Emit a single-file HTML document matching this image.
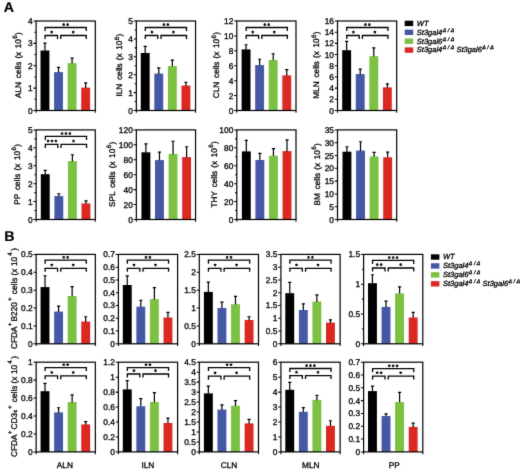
<!DOCTYPE html>
<html><head><meta charset="utf-8"><title>Figure</title>
<style>
html,body{margin:0;padding:0;background:#fff;}
body{width:520px;height:470px;overflow:hidden;font-family:"Liberation Sans",sans-serif;}
svg{display:block;will-change:transform;}
text{font-family:"Liberation Sans",sans-serif;fill:#000;stroke:#000;stroke-width:0.3px;text-rendering:geometricPrecision;}
.t{font-size:8.4px;}
.l{font-size:8.2px;word-spacing:1.7px;}
.lb{font-size:8.3px;}
.xb{font-size:8.3px;}
.e{font-size:6px;}
.u{font-size:6.3px;}
.P{font-size:14.2px;font-weight:bold;fill:#000;stroke-width:0.2px;}
.g{font-size:7.5px;font-style:italic;}
.d{font-size:5.3px;font-style:italic;letter-spacing:1.5px;}
</style></head>
<body>
<svg width="520" height="470" viewBox="0 0 520 470">
<defs><filter id="soft" x="0" y="0" width="520" height="470" filterUnits="userSpaceOnUse" color-interpolation-filters="sRGB"><feConvolveMatrix order="3" kernelMatrix="0.01 0.08 0.01 0.08 0.64 0.08 0.01 0.08 0.01" divisor="1" edgeMode="duplicate" preserveAlpha="false"/></filter></defs>
<g filter="url(#soft)">
<rect x="40.5" y="50.5" width="8.9" height="60" fill="#000000"/>
<path d="M44.95 50.8V42.8M43.35 43.15H46.55" stroke="#000" stroke-width="1.2" fill="none"/>
<rect x="54.07" y="72.1" width="8.9" height="38.4" fill="#4558a6"/>
<path d="M58.52 72.4V67.1M56.92 67.45H60.12" stroke="#000" stroke-width="1.2" fill="none"/>
<rect x="67.64" y="63.1" width="8.9" height="47.4" fill="#7cc142"/>
<path d="M72.09 63.4V57.7M70.49 58.05H73.69" stroke="#000" stroke-width="1.2" fill="none"/>
<rect x="81.21" y="87.6" width="8.9" height="22.9" fill="#db2823"/>
<path d="M85.66 87.9V82.6M84.06 82.95H87.26" stroke="#000" stroke-width="1.2" fill="none"/>
<rect x="36.1" y="21" width="59.2" height="89.5" fill="none" stroke="#000" stroke-width="1.2"/>
<path d="M33.4 110.5H36.1M33.4 88.12H36.1M33.4 65.75H36.1M33.4 43.38H36.1M33.4 21H36.1M34.4 99.31H36.1M34.4 76.94H36.1M34.4 54.56H36.1M34.4 32.19H36.1M36.1 110.5V112.8M95.3 110.5V112.8" stroke="#000" stroke-width="1.05" fill="none"/>
<text x="32.6" y="113.5" text-anchor="end" class="t">0</text>
<text x="32.6" y="91.12" text-anchor="end" class="t">1</text>
<text x="32.6" y="68.75" text-anchor="end" class="t">2</text>
<text x="32.6" y="46.38" text-anchor="end" class="t">3</text>
<text x="32.6" y="24" text-anchor="end" class="t">4</text>
<path d="M45.05 31V27.5H86.26V31M45.05 39V35.5H57.52V39M60.72 39V35.5H86.26V39" stroke="#000" stroke-width="1.3" fill="none"/>
<path d="M63.7 24.6L63.7 23.6M63.7 24.6L64.66 24.29M63.7 24.6L64.29 25.41M63.7 24.6L63.12 25.41M63.7 24.6L62.75 24.29" stroke="#000" stroke-width="1.05" stroke-linecap="round" fill="none"/>
<path d="M67.61 24.6L67.61 23.6M67.61 24.6L68.56 24.29M67.61 24.6L68.19 25.41M67.61 24.6L67.02 25.41M67.61 24.6L66.65 24.29" stroke="#000" stroke-width="1.05" stroke-linecap="round" fill="none"/>
<path d="M51.69 32.1L51.69 31.1M51.69 32.1L52.64 31.79M51.69 32.1L52.27 32.91M51.69 32.1L51.1 32.91M51.69 32.1L50.73 31.79" stroke="#000" stroke-width="1.05" stroke-linecap="round" fill="none"/>
<path d="M73.19 32.1L73.19 31.1M73.19 32.1L74.14 31.79M73.19 32.1L73.78 32.91M73.19 32.1L72.6 32.91M73.19 32.1L72.24 31.79" stroke="#000" stroke-width="1.05" stroke-linecap="round" fill="none"/>
<rect x="140.75" y="53" width="8.9" height="57.5" fill="#000000"/>
<path d="M145.2 53.3V46M143.6 46.35H146.8" stroke="#000" stroke-width="1.2" fill="none"/>
<rect x="154.32" y="73.6" width="8.9" height="36.9" fill="#4558a6"/>
<path d="M158.77 73.9V67.5M157.17 67.85H160.37" stroke="#000" stroke-width="1.2" fill="none"/>
<rect x="167.89" y="66" width="8.9" height="44.5" fill="#7cc142"/>
<path d="M172.34 66.3V59.7M170.74 60.05H173.94" stroke="#000" stroke-width="1.2" fill="none"/>
<rect x="181.46" y="85.6" width="8.9" height="24.9" fill="#db2823"/>
<path d="M185.91 85.9V81.9M184.31 82.25H187.51" stroke="#000" stroke-width="1.2" fill="none"/>
<rect x="136.35" y="21" width="59.2" height="89.5" fill="none" stroke="#000" stroke-width="1.2"/>
<path d="M133.65 110.5H136.35M133.65 92.6H136.35M133.65 74.7H136.35M133.65 56.8H136.35M133.65 38.9H136.35M133.65 21H136.35M134.65 101.55H136.35M134.65 83.65H136.35M134.65 65.75H136.35M134.65 47.85H136.35M134.65 29.95H136.35M136.35 110.5V112.8M195.55 110.5V112.8" stroke="#000" stroke-width="1.05" fill="none"/>
<text x="132.85" y="113.5" text-anchor="end" class="t">0</text>
<text x="132.85" y="95.6" text-anchor="end" class="t">1</text>
<text x="132.85" y="77.7" text-anchor="end" class="t">2</text>
<text x="132.85" y="59.8" text-anchor="end" class="t">3</text>
<text x="132.85" y="41.9" text-anchor="end" class="t">4</text>
<text x="132.85" y="24" text-anchor="end" class="t">5</text>
<path d="M145.3 31V27.5H186.51V31M145.3 39V35.5H157.77V39M160.97 39V35.5H186.51V39" stroke="#000" stroke-width="1.3" fill="none"/>
<path d="M163.95 24.6L163.95 23.6M163.95 24.6L164.91 24.29M163.95 24.6L164.54 25.41M163.95 24.6L163.37 25.41M163.95 24.6L163 24.29" stroke="#000" stroke-width="1.05" stroke-linecap="round" fill="none"/>
<path d="M167.85 24.6L167.85 23.6M167.85 24.6L168.81 24.29M167.85 24.6L168.44 25.41M167.85 24.6L167.27 25.41M167.85 24.6L166.9 24.29" stroke="#000" stroke-width="1.05" stroke-linecap="round" fill="none"/>
<path d="M151.93 32.1L151.93 31.1M151.93 32.1L152.89 31.79M151.93 32.1L152.52 32.91M151.93 32.1L151.35 32.91M151.93 32.1L150.98 31.79" stroke="#000" stroke-width="1.05" stroke-linecap="round" fill="none"/>
<path d="M173.44 32.1L173.44 31.1M173.44 32.1L174.39 31.79M173.44 32.1L174.03 32.91M173.44 32.1L172.85 32.91M173.44 32.1L172.49 31.79" stroke="#000" stroke-width="1.05" stroke-linecap="round" fill="none"/>
<rect x="241.6" y="49.4" width="8.9" height="61.1" fill="#000000"/>
<path d="M246.05 49.7V44.4M244.45 44.75H247.65" stroke="#000" stroke-width="1.2" fill="none"/>
<rect x="255.17" y="65.1" width="8.9" height="45.4" fill="#4558a6"/>
<path d="M259.62 65.4V58.9M258.02 59.25H261.22" stroke="#000" stroke-width="1.2" fill="none"/>
<rect x="268.74" y="60" width="8.9" height="50.5" fill="#7cc142"/>
<path d="M273.19 60.3V53.4M271.59 53.75H274.79" stroke="#000" stroke-width="1.2" fill="none"/>
<rect x="282.31" y="75.4" width="8.9" height="35.1" fill="#db2823"/>
<path d="M286.76 75.7V69.2M285.16 69.55H288.36" stroke="#000" stroke-width="1.2" fill="none"/>
<rect x="236.8" y="21" width="59.2" height="89.5" fill="none" stroke="#000" stroke-width="1.2"/>
<path d="M234.1 110.5H236.8M234.1 95.58H236.8M234.1 80.67H236.8M234.1 65.75H236.8M234.1 50.83H236.8M234.1 35.92H236.8M234.1 21H236.8M236.8 110.5V112.8M296 110.5V112.8" stroke="#000" stroke-width="1.05" fill="none"/>
<text x="233.3" y="113.5" text-anchor="end" class="t">0</text>
<text x="233.3" y="98.58" text-anchor="end" class="t">2</text>
<text x="233.3" y="83.67" text-anchor="end" class="t">4</text>
<text x="233.3" y="68.75" text-anchor="end" class="t">6</text>
<text x="233.3" y="53.83" text-anchor="end" class="t">8</text>
<text x="233.3" y="38.92" text-anchor="end" class="t">10</text>
<text x="233.3" y="24" text-anchor="end" class="t">12</text>
<path d="M246.15 31V27.5H287.36V31M246.15 39V35.5H258.62V39M261.82 39V35.5H287.36V39" stroke="#000" stroke-width="1.3" fill="none"/>
<path d="M264.81 24.6L264.81 23.6M264.81 24.6L265.76 24.29M264.81 24.6L265.39 25.41M264.81 24.6L264.22 25.41M264.81 24.6L263.85 24.29" stroke="#000" stroke-width="1.05" stroke-linecap="round" fill="none"/>
<path d="M268.7 24.6L268.7 23.6M268.7 24.6L269.66 24.29M268.7 24.6L269.29 25.41M268.7 24.6L268.12 25.41M268.7 24.6L267.75 24.29" stroke="#000" stroke-width="1.05" stroke-linecap="round" fill="none"/>
<path d="M252.78 32.1L252.78 31.1M252.78 32.1L253.74 31.79M252.78 32.1L253.37 32.91M252.78 32.1L252.2 32.91M252.78 32.1L251.83 31.79" stroke="#000" stroke-width="1.05" stroke-linecap="round" fill="none"/>
<path d="M274.29 32.1L274.29 31.1M274.29 32.1L275.24 31.79M274.29 32.1L274.88 32.91M274.29 32.1L273.7 32.91M274.29 32.1L273.34 31.79" stroke="#000" stroke-width="1.05" stroke-linecap="round" fill="none"/>
<rect x="342.2" y="50.2" width="8.9" height="60.3" fill="#000000"/>
<path d="M346.65 50.5V41.1M345.05 41.45H348.25" stroke="#000" stroke-width="1.2" fill="none"/>
<rect x="355.77" y="74.1" width="8.9" height="36.4" fill="#4558a6"/>
<path d="M360.22 74.4V68.7M358.62 69.05H361.82" stroke="#000" stroke-width="1.2" fill="none"/>
<rect x="369.34" y="56.2" width="8.9" height="54.3" fill="#7cc142"/>
<path d="M373.79 56.5V47.6M372.19 47.95H375.39" stroke="#000" stroke-width="1.2" fill="none"/>
<rect x="382.91" y="87.4" width="8.9" height="23.1" fill="#db2823"/>
<path d="M387.36 87.7V83.6M385.76 83.95H388.96" stroke="#000" stroke-width="1.2" fill="none"/>
<rect x="337.5" y="21" width="59.2" height="89.5" fill="none" stroke="#000" stroke-width="1.2"/>
<path d="M334.8 110.5H337.5M334.8 99.31H337.5M334.8 88.12H337.5M334.8 76.94H337.5M334.8 65.75H337.5M334.8 54.56H337.5M334.8 43.38H337.5M334.8 32.19H337.5M334.8 21H337.5M337.5 110.5V112.8M396.7 110.5V112.8" stroke="#000" stroke-width="1.05" fill="none"/>
<text x="334" y="113.5" text-anchor="end" class="t">0</text>
<text x="334" y="102.31" text-anchor="end" class="t">2</text>
<text x="334" y="91.12" text-anchor="end" class="t">4</text>
<text x="334" y="79.94" text-anchor="end" class="t">6</text>
<text x="334" y="68.75" text-anchor="end" class="t">8</text>
<text x="334" y="57.56" text-anchor="end" class="t">10</text>
<text x="334" y="46.38" text-anchor="end" class="t">12</text>
<text x="334" y="35.19" text-anchor="end" class="t">14</text>
<text x="334" y="24" text-anchor="end" class="t">16</text>
<path d="M346.75 31V27.5H387.96V31M346.75 39V35.5H359.22V39M362.42 39V35.5H387.96V39" stroke="#000" stroke-width="1.3" fill="none"/>
<path d="M365.41 24.6L365.41 23.6M365.41 24.6L366.36 24.29M365.41 24.6L365.99 25.41M365.41 24.6L364.82 25.41M365.41 24.6L364.45 24.29" stroke="#000" stroke-width="1.05" stroke-linecap="round" fill="none"/>
<path d="M369.31 24.6L369.31 23.6M369.31 24.6L370.26 24.29M369.31 24.6L369.89 25.41M369.31 24.6L368.72 25.41M369.31 24.6L368.35 24.29" stroke="#000" stroke-width="1.05" stroke-linecap="round" fill="none"/>
<path d="M353.39 32.1L353.39 31.1M353.39 32.1L354.34 31.79M353.39 32.1L353.97 32.91M353.39 32.1L352.8 32.91M353.39 32.1L352.43 31.79" stroke="#000" stroke-width="1.05" stroke-linecap="round" fill="none"/>
<path d="M374.89 32.1L374.89 31.1M374.89 32.1L375.84 31.79M374.89 32.1L375.48 32.91M374.89 32.1L374.3 32.91M374.89 32.1L373.94 31.79" stroke="#000" stroke-width="1.05" stroke-linecap="round" fill="none"/>
<rect x="40.8" y="174.2" width="8.9" height="45.3" fill="#000000"/>
<path d="M45.25 174.5V170.1M43.65 170.45H46.85" stroke="#000" stroke-width="1.2" fill="none"/>
<rect x="54.37" y="196.1" width="8.9" height="23.4" fill="#4558a6"/>
<path d="M58.82 196.4V193.4M57.22 193.75H60.42" stroke="#000" stroke-width="1.2" fill="none"/>
<rect x="67.94" y="161.1" width="8.9" height="58.4" fill="#7cc142"/>
<path d="M72.39 161.4V154.4M70.79 154.75H73.99" stroke="#000" stroke-width="1.2" fill="none"/>
<rect x="81.51" y="203.4" width="8.9" height="16.1" fill="#db2823"/>
<path d="M85.96 203.7V200.5M84.36 200.85H87.56" stroke="#000" stroke-width="1.2" fill="none"/>
<rect x="36.1" y="129.9" width="59.2" height="89.6" fill="none" stroke="#000" stroke-width="1.2"/>
<path d="M33.4 219.5H36.1M33.4 201.58H36.1M33.4 183.66H36.1M33.4 165.74H36.1M33.4 147.82H36.1M33.4 129.9H36.1M34.4 210.54H36.1M34.4 192.62H36.1M34.4 174.7H36.1M34.4 156.78H36.1M34.4 138.86H36.1M36.1 219.5V221.8M95.3 219.5V221.8" stroke="#000" stroke-width="1.05" fill="none"/>
<text x="32.6" y="222.5" text-anchor="end" class="t">0</text>
<text x="32.6" y="204.58" text-anchor="end" class="t">1</text>
<text x="32.6" y="186.66" text-anchor="end" class="t">2</text>
<text x="32.6" y="168.74" text-anchor="end" class="t">3</text>
<text x="32.6" y="150.82" text-anchor="end" class="t">4</text>
<text x="32.6" y="132.9" text-anchor="end" class="t">5</text>
<path d="M45.35 139.9V136.4H86.56V139.9M45.35 147.9V144.4H57.82V147.9M61.02 147.9V144.4H86.56V147.9" stroke="#000" stroke-width="1.3" fill="none"/>
<path d="M62.05 133.5L62.05 132.5M62.05 133.5L63.01 133.19M62.05 133.5L62.64 134.31M62.05 133.5L61.47 134.31M62.05 133.5L61.1 133.19" stroke="#000" stroke-width="1.05" stroke-linecap="round" fill="none"/>
<path d="M65.95 133.5L65.95 132.5M65.95 133.5L66.91 133.19M65.95 133.5L66.54 134.31M65.95 133.5L65.37 134.31M65.95 133.5L65 133.19" stroke="#000" stroke-width="1.05" stroke-linecap="round" fill="none"/>
<path d="M69.86 133.5L69.86 132.5M69.86 133.5L70.81 133.19M69.86 133.5L70.44 134.31M69.86 133.5L69.27 134.31M69.86 133.5L68.9 133.19" stroke="#000" stroke-width="1.05" stroke-linecap="round" fill="none"/>
<path d="M48.09 141L48.09 140M48.09 141L49.04 140.69M48.09 141L48.67 141.81M48.09 141L47.5 141.81M48.09 141L47.13 140.69" stroke="#000" stroke-width="1.05" stroke-linecap="round" fill="none"/>
<path d="M51.99 141L51.99 140M51.99 141L52.94 140.69M51.99 141L52.57 141.81M51.99 141L51.4 141.81M51.99 141L51.03 140.69" stroke="#000" stroke-width="1.05" stroke-linecap="round" fill="none"/>
<path d="M55.89 141L55.89 140M55.89 141L56.84 140.69M55.89 141L56.47 141.81M55.89 141L55.3 141.81M55.89 141L54.93 140.69" stroke="#000" stroke-width="1.05" stroke-linecap="round" fill="none"/>
<path d="M73.49 141L73.49 140M73.49 141L74.44 140.69M73.49 141L74.08 141.81M73.49 141L72.9 141.81M73.49 141L72.54 140.69" stroke="#000" stroke-width="1.05" stroke-linecap="round" fill="none"/>
<rect x="141.45" y="152.3" width="8.9" height="67.2" fill="#000000"/>
<path d="M145.9 152.6V143.6M144.3 143.95H147.5" stroke="#000" stroke-width="1.2" fill="none"/>
<rect x="155.02" y="160.1" width="8.9" height="59.4" fill="#4558a6"/>
<path d="M159.47 160.4V151.7M157.87 152.05H161.07" stroke="#000" stroke-width="1.2" fill="none"/>
<rect x="168.59" y="153.9" width="8.9" height="65.6" fill="#7cc142"/>
<path d="M173.04 154.2V140.9M171.44 141.25H174.64" stroke="#000" stroke-width="1.2" fill="none"/>
<rect x="182.16" y="157.1" width="8.9" height="62.4" fill="#db2823"/>
<path d="M186.61 157.4V146.4M185.01 146.75H188.21" stroke="#000" stroke-width="1.2" fill="none"/>
<rect x="136.35" y="129.9" width="59.2" height="89.6" fill="none" stroke="#000" stroke-width="1.2"/>
<path d="M133.65 219.5H136.35M133.65 204.57H136.35M133.65 189.63H136.35M133.65 174.7H136.35M133.65 159.77H136.35M133.65 144.83H136.35M133.65 129.9H136.35M136.35 219.5V221.8M195.55 219.5V221.8" stroke="#000" stroke-width="1.05" fill="none"/>
<text x="132.85" y="222.5" text-anchor="end" class="t">0</text>
<text x="132.85" y="207.57" text-anchor="end" class="t">20</text>
<text x="132.85" y="192.63" text-anchor="end" class="t">40</text>
<text x="132.85" y="177.7" text-anchor="end" class="t">60</text>
<text x="132.85" y="162.77" text-anchor="end" class="t">80</text>
<text x="132.85" y="147.83" text-anchor="end" class="t">100</text>
<text x="132.85" y="132.9" text-anchor="end" class="t">120</text>
<rect x="241.85" y="151.4" width="8.9" height="68.1" fill="#000000"/>
<path d="M246.3 151.7V140M244.7 140.35H247.9" stroke="#000" stroke-width="1.2" fill="none"/>
<rect x="255.42" y="160" width="8.9" height="59.5" fill="#4558a6"/>
<path d="M259.87 160.3V153M258.27 153.35H261.47" stroke="#000" stroke-width="1.2" fill="none"/>
<rect x="268.99" y="155.7" width="8.9" height="63.8" fill="#7cc142"/>
<path d="M273.44 156V148.2M271.84 148.55H275.04" stroke="#000" stroke-width="1.2" fill="none"/>
<rect x="282.56" y="151.1" width="8.9" height="68.4" fill="#db2823"/>
<path d="M287.01 151.4V139.6M285.41 139.95H288.61" stroke="#000" stroke-width="1.2" fill="none"/>
<rect x="236.8" y="129.9" width="59.2" height="89.6" fill="none" stroke="#000" stroke-width="1.2"/>
<path d="M234.1 219.5H236.8M234.1 201.58H236.8M234.1 183.66H236.8M234.1 165.74H236.8M234.1 147.82H236.8M234.1 129.9H236.8M235.1 210.54H236.8M235.1 192.62H236.8M235.1 174.7H236.8M235.1 156.78H236.8M235.1 138.86H236.8M236.8 219.5V221.8M296 219.5V221.8" stroke="#000" stroke-width="1.05" fill="none"/>
<text x="233.3" y="222.5" text-anchor="end" class="t">0</text>
<text x="233.3" y="204.58" text-anchor="end" class="t">20</text>
<text x="233.3" y="186.66" text-anchor="end" class="t">40</text>
<text x="233.3" y="168.74" text-anchor="end" class="t">60</text>
<text x="233.3" y="150.82" text-anchor="end" class="t">80</text>
<text x="233.3" y="132.9" text-anchor="end" class="t">100</text>
<rect x="342.5" y="151.7" width="8.9" height="67.8" fill="#000000"/>
<path d="M346.95 152V146.4M345.35 146.75H348.55" stroke="#000" stroke-width="1.2" fill="none"/>
<rect x="356.07" y="150.6" width="8.9" height="68.9" fill="#4558a6"/>
<path d="M360.52 150.9V141.4M358.92 141.75H362.12" stroke="#000" stroke-width="1.2" fill="none"/>
<rect x="369.64" y="156.5" width="8.9" height="63" fill="#7cc142"/>
<path d="M374.09 156.8V152.1M372.49 152.45H375.69" stroke="#000" stroke-width="1.2" fill="none"/>
<rect x="383.21" y="157.3" width="8.9" height="62.2" fill="#db2823"/>
<path d="M387.66 157.6V151.8M386.06 152.15H389.26" stroke="#000" stroke-width="1.2" fill="none"/>
<rect x="337.5" y="129.9" width="59.2" height="89.6" fill="none" stroke="#000" stroke-width="1.2"/>
<path d="M334.8 219.5H337.5M334.8 206.7H337.5M334.8 193.9H337.5M334.8 181.1H337.5M334.8 168.3H337.5M334.8 155.5H337.5M334.8 142.7H337.5M334.8 129.9H337.5M337.5 219.5V221.8M396.7 219.5V221.8" stroke="#000" stroke-width="1.05" fill="none"/>
<text x="334" y="222.5" text-anchor="end" class="t">0</text>
<text x="334" y="209.7" text-anchor="end" class="t">5</text>
<text x="334" y="196.9" text-anchor="end" class="t">10</text>
<text x="334" y="184.1" text-anchor="end" class="t">15</text>
<text x="334" y="171.3" text-anchor="end" class="t">20</text>
<text x="334" y="158.5" text-anchor="end" class="t">25</text>
<text x="334" y="145.7" text-anchor="end" class="t">30</text>
<text x="334" y="132.9" text-anchor="end" class="t">35</text>
<rect x="40.55" y="287.1" width="8.9" height="56.7" fill="#000000"/>
<path d="M45 287.4V275.4M43.4 275.75H46.6" stroke="#000" stroke-width="1.2" fill="none"/>
<rect x="54.12" y="311.6" width="8.9" height="32.2" fill="#4558a6"/>
<path d="M58.57 311.9V305.8M56.97 306.15H60.17" stroke="#000" stroke-width="1.2" fill="none"/>
<rect x="67.69" y="296" width="8.9" height="47.8" fill="#7cc142"/>
<path d="M72.14 296.3V286.2M70.54 286.55H73.74" stroke="#000" stroke-width="1.2" fill="none"/>
<rect x="81.26" y="321.6" width="8.9" height="22.2" fill="#db2823"/>
<path d="M85.71 321.9V316.4M84.11 316.75H87.31" stroke="#000" stroke-width="1.2" fill="none"/>
<rect x="36.15" y="254.4" width="59.2" height="89.4" fill="none" stroke="#000" stroke-width="1.2"/>
<path d="M33.45 343.8H36.15M33.45 325.92H36.15M33.45 308.04H36.15M33.45 290.16H36.15M33.45 272.28H36.15M33.45 254.4H36.15M36.15 343.8V346.1M95.35 343.8V346.1" stroke="#000" stroke-width="1.05" fill="none"/>
<text x="32.65" y="346.8" text-anchor="end" class="t">0</text>
<text x="32.65" y="328.92" text-anchor="end" class="t">0.1</text>
<text x="32.65" y="311.04" text-anchor="end" class="t">0.2</text>
<text x="32.65" y="293.16" text-anchor="end" class="t">0.3</text>
<text x="32.65" y="275.28" text-anchor="end" class="t">0.4</text>
<text x="32.65" y="257.4" text-anchor="end" class="t">0.5</text>
<path d="M45.1 263.7V260.2H86.31V263.7M45.1 271.8V268.3H57.57V271.8M60.77 271.8V268.3H86.31V271.8" stroke="#000" stroke-width="1.3" fill="none"/>
<path d="M63.75 257.3L63.75 256.3M63.75 257.3L64.71 256.99M63.75 257.3L64.34 258.11M63.75 257.3L63.17 258.11M63.75 257.3L62.8 256.99" stroke="#000" stroke-width="1.05" stroke-linecap="round" fill="none"/>
<path d="M67.66 257.3L67.66 256.3M67.66 257.3L68.61 256.99M67.66 257.3L68.24 258.11M67.66 257.3L67.07 258.11M67.66 257.3L66.7 256.99" stroke="#000" stroke-width="1.05" stroke-linecap="round" fill="none"/>
<path d="M51.74 264.9L51.74 263.9M51.74 264.9L52.69 264.59M51.74 264.9L52.32 265.71M51.74 264.9L51.15 265.71M51.74 264.9L50.78 264.59" stroke="#000" stroke-width="1.05" stroke-linecap="round" fill="none"/>
<path d="M73.24 264.9L73.24 263.9M73.24 264.9L74.19 264.59M73.24 264.9L73.83 265.71M73.24 264.9L72.65 265.71M73.24 264.9L72.29 264.59" stroke="#000" stroke-width="1.05" stroke-linecap="round" fill="none"/>
<rect x="122.8" y="285" width="8.9" height="58.8" fill="#000000"/>
<path d="M127.25 285.3V275.5M125.65 275.85H128.85" stroke="#000" stroke-width="1.2" fill="none"/>
<rect x="136.37" y="306.7" width="8.9" height="37.1" fill="#4558a6"/>
<path d="M140.82 307V299.9M139.22 300.25H142.42" stroke="#000" stroke-width="1.2" fill="none"/>
<rect x="149.94" y="299.1" width="8.9" height="44.7" fill="#7cc142"/>
<path d="M154.39 299.4V287.2M152.79 287.55H155.99" stroke="#000" stroke-width="1.2" fill="none"/>
<rect x="163.51" y="317.5" width="8.9" height="26.3" fill="#db2823"/>
<path d="M167.96 317.8V312M166.36 312.35H169.56" stroke="#000" stroke-width="1.2" fill="none"/>
<rect x="118.4" y="254.4" width="59.2" height="89.4" fill="none" stroke="#000" stroke-width="1.2"/>
<path d="M115.7 343.8H118.4M115.7 331.03H118.4M115.7 318.26H118.4M115.7 305.49H118.4M115.7 292.71H118.4M115.7 279.94H118.4M115.7 267.17H118.4M115.7 254.4H118.4M118.4 343.8V346.1M177.6 343.8V346.1" stroke="#000" stroke-width="1.05" fill="none"/>
<text x="114.9" y="346.8" text-anchor="end" class="t">0</text>
<text x="114.9" y="334.03" text-anchor="end" class="t">0.1</text>
<text x="114.9" y="321.26" text-anchor="end" class="t">0.2</text>
<text x="114.9" y="308.49" text-anchor="end" class="t">0.3</text>
<text x="114.9" y="295.71" text-anchor="end" class="t">0.4</text>
<text x="114.9" y="282.94" text-anchor="end" class="t">0.5</text>
<text x="114.9" y="270.17" text-anchor="end" class="t">0.6</text>
<text x="114.9" y="257.4" text-anchor="end" class="t">0.7</text>
<path d="M127.35 263.7V260.2H168.56V263.7M127.35 271.8V268.3H139.82V271.8M143.02 271.8V268.3H168.56V271.8" stroke="#000" stroke-width="1.3" fill="none"/>
<path d="M146 257.3L146 256.3M146 257.3L146.96 256.99M146 257.3L146.59 258.11M146 257.3L145.42 258.11M146 257.3L145.05 256.99" stroke="#000" stroke-width="1.05" stroke-linecap="round" fill="none"/>
<path d="M149.9 257.3L149.9 256.3M149.9 257.3L150.86 256.99M149.9 257.3L150.49 258.11M149.9 257.3L149.32 258.11M149.9 257.3L148.95 256.99" stroke="#000" stroke-width="1.05" stroke-linecap="round" fill="none"/>
<path d="M133.98 264.9L133.98 263.9M133.98 264.9L134.94 264.59M133.98 264.9L134.57 265.71M133.98 264.9L133.4 265.71M133.98 264.9L133.03 264.59" stroke="#000" stroke-width="1.05" stroke-linecap="round" fill="none"/>
<path d="M155.49 264.9L155.49 263.9M155.49 264.9L156.44 264.59M155.49 264.9L156.08 265.71M155.49 264.9L154.9 265.71M155.49 264.9L154.54 264.59" stroke="#000" stroke-width="1.05" stroke-linecap="round" fill="none"/>
<rect x="203.9" y="291.9" width="8.9" height="51.9" fill="#000000"/>
<path d="M208.35 292.2V281.8M206.75 282.15H209.95" stroke="#000" stroke-width="1.2" fill="none"/>
<rect x="217.47" y="308" width="8.9" height="35.8" fill="#4558a6"/>
<path d="M221.92 308.3V301.8M220.32 302.15H223.52" stroke="#000" stroke-width="1.2" fill="none"/>
<rect x="231.04" y="304.2" width="8.9" height="39.6" fill="#7cc142"/>
<path d="M235.49 304.5V296.1M233.89 296.45H237.09" stroke="#000" stroke-width="1.2" fill="none"/>
<rect x="244.61" y="320" width="8.9" height="23.8" fill="#db2823"/>
<path d="M249.06 320.3V316.4M247.46 316.75H250.66" stroke="#000" stroke-width="1.2" fill="none"/>
<rect x="199.3" y="254.4" width="59.2" height="89.4" fill="none" stroke="#000" stroke-width="1.2"/>
<path d="M196.6 343.8H199.3M196.6 325.92H199.3M196.6 308.04H199.3M196.6 290.16H199.3M196.6 272.28H199.3M196.6 254.4H199.3M199.3 343.8V346.1M258.5 343.8V346.1" stroke="#000" stroke-width="1.05" fill="none"/>
<text x="195.8" y="346.8" text-anchor="end" class="t">0</text>
<text x="195.8" y="328.92" text-anchor="end" class="t">0.5</text>
<text x="195.8" y="311.04" text-anchor="end" class="t">1</text>
<text x="195.8" y="293.16" text-anchor="end" class="t">1.5</text>
<text x="195.8" y="275.28" text-anchor="end" class="t">2</text>
<text x="195.8" y="257.4" text-anchor="end" class="t">2.5</text>
<path d="M208.45 263.7V260.2H249.66V263.7M208.45 271.8V268.3H220.92V271.8M224.12 271.8V268.3H249.66V271.8" stroke="#000" stroke-width="1.3" fill="none"/>
<path d="M227.11 257.3L227.11 256.3M227.11 257.3L228.06 256.99M227.11 257.3L227.69 258.11M227.11 257.3L226.52 258.11M227.11 257.3L226.15 256.99" stroke="#000" stroke-width="1.05" stroke-linecap="round" fill="none"/>
<path d="M231 257.3L231 256.3M231 257.3L231.96 256.99M231 257.3L231.59 258.11M231 257.3L230.42 258.11M231 257.3L230.05 256.99" stroke="#000" stroke-width="1.05" stroke-linecap="round" fill="none"/>
<path d="M215.08 264.9L215.08 263.9M215.08 264.9L216.04 264.59M215.08 264.9L215.67 265.71M215.08 264.9L214.5 265.71M215.08 264.9L214.13 264.59" stroke="#000" stroke-width="1.05" stroke-linecap="round" fill="none"/>
<path d="M236.59 264.9L236.59 263.9M236.59 264.9L237.54 264.59M236.59 264.9L237.18 265.71M236.59 264.9L236 265.71M236.59 264.9L235.64 264.59" stroke="#000" stroke-width="1.05" stroke-linecap="round" fill="none"/>
<rect x="285.3" y="293.2" width="8.9" height="50.6" fill="#000000"/>
<path d="M289.75 293.5V282.1M288.15 282.45H291.35" stroke="#000" stroke-width="1.2" fill="none"/>
<rect x="298.87" y="310" width="8.9" height="33.8" fill="#4558a6"/>
<path d="M303.32 310.3V303.6M301.72 303.95H304.92" stroke="#000" stroke-width="1.2" fill="none"/>
<rect x="312.44" y="301.6" width="8.9" height="42.2" fill="#7cc142"/>
<path d="M316.89 301.9V294.6M315.29 294.95H318.49" stroke="#000" stroke-width="1.2" fill="none"/>
<rect x="326.01" y="322.6" width="8.9" height="21.2" fill="#db2823"/>
<path d="M330.46 322.9V319.5M328.86 319.85H332.06" stroke="#000" stroke-width="1.2" fill="none"/>
<rect x="280.9" y="254.4" width="59.2" height="89.4" fill="none" stroke="#000" stroke-width="1.2"/>
<path d="M278.2 343.8H280.9M278.2 331.03H280.9M278.2 318.26H280.9M278.2 305.49H280.9M278.2 292.71H280.9M278.2 279.94H280.9M278.2 267.17H280.9M278.2 254.4H280.9M280.9 343.8V346.1M340.1 343.8V346.1" stroke="#000" stroke-width="1.05" fill="none"/>
<text x="277.4" y="346.8" text-anchor="end" class="t">0</text>
<text x="277.4" y="334.03" text-anchor="end" class="t">0.5</text>
<text x="277.4" y="321.26" text-anchor="end" class="t">1</text>
<text x="277.4" y="308.49" text-anchor="end" class="t">1.5</text>
<text x="277.4" y="295.71" text-anchor="end" class="t">2</text>
<text x="277.4" y="282.94" text-anchor="end" class="t">2.5</text>
<text x="277.4" y="270.17" text-anchor="end" class="t">3</text>
<text x="277.4" y="257.4" text-anchor="end" class="t">3.5</text>
<path d="M289.85 263.7V260.2H331.06V263.7M289.85 271.8V268.3H302.32V271.8M305.52 271.8V268.3H331.06V271.8" stroke="#000" stroke-width="1.3" fill="none"/>
<path d="M308.51 257.3L308.51 256.3M308.51 257.3L309.46 256.99M308.51 257.3L309.09 258.11M308.51 257.3L307.92 258.11M308.51 257.3L307.55 256.99" stroke="#000" stroke-width="1.05" stroke-linecap="round" fill="none"/>
<path d="M312.41 257.3L312.41 256.3M312.41 257.3L313.36 256.99M312.41 257.3L312.99 258.11M312.41 257.3L311.82 258.11M312.41 257.3L311.45 256.99" stroke="#000" stroke-width="1.05" stroke-linecap="round" fill="none"/>
<path d="M296.49 264.9L296.49 263.9M296.49 264.9L297.44 264.59M296.49 264.9L297.07 265.71M296.49 264.9L295.9 265.71M296.49 264.9L295.53 264.59" stroke="#000" stroke-width="1.05" stroke-linecap="round" fill="none"/>
<path d="M317.99 264.9L317.99 263.9M317.99 264.9L318.94 264.59M317.99 264.9L318.58 265.71M317.99 264.9L317.4 265.71M317.99 264.9L317.04 264.59" stroke="#000" stroke-width="1.05" stroke-linecap="round" fill="none"/>
<rect x="368" y="283.2" width="8.9" height="60.6" fill="#000000"/>
<path d="M372.45 283.5V274.4M370.85 274.75H374.05" stroke="#000" stroke-width="1.2" fill="none"/>
<rect x="381.57" y="306.9" width="8.9" height="36.9" fill="#4558a6"/>
<path d="M386.02 307.2V300.7M384.42 301.05H387.62" stroke="#000" stroke-width="1.2" fill="none"/>
<rect x="395.14" y="293.3" width="8.9" height="50.5" fill="#7cc142"/>
<path d="M399.59 293.6V286.5M397.99 286.85H401.19" stroke="#000" stroke-width="1.2" fill="none"/>
<rect x="408.71" y="317.5" width="8.9" height="26.3" fill="#db2823"/>
<path d="M413.16 317.8V312.1M411.56 312.45H414.76" stroke="#000" stroke-width="1.2" fill="none"/>
<rect x="363.6" y="254.4" width="59.2" height="89.4" fill="none" stroke="#000" stroke-width="1.2"/>
<path d="M360.9 343.8H363.6M360.9 314H363.6M360.9 284.2H363.6M360.9 254.4H363.6M361.9 328.9H363.6M361.9 299.1H363.6M361.9 269.3H363.6M363.6 343.8V346.1M422.8 343.8V346.1" stroke="#000" stroke-width="1.05" fill="none"/>
<text x="360.1" y="346.8" text-anchor="end" class="t">0</text>
<text x="360.1" y="317" text-anchor="end" class="t">0.5</text>
<text x="360.1" y="287.2" text-anchor="end" class="t">1</text>
<text x="360.1" y="257.4" text-anchor="end" class="t">1.5</text>
<path d="M372.55 263.9V260.4H413.76V263.9M372.55 271.5V268H385.02V271.5M388.22 271.5V268H413.76V271.5" stroke="#000" stroke-width="1.3" fill="none"/>
<path d="M389.26 257.5L389.26 256.5M389.26 257.5L390.21 257.19M389.26 257.5L389.84 258.31M389.26 257.5L388.67 258.31M389.26 257.5L388.3 257.19" stroke="#000" stroke-width="1.05" stroke-linecap="round" fill="none"/>
<path d="M393.16 257.5L393.16 256.5M393.16 257.5L394.11 257.19M393.16 257.5L393.74 258.31M393.16 257.5L392.57 258.31M393.16 257.5L392.2 257.19" stroke="#000" stroke-width="1.05" stroke-linecap="round" fill="none"/>
<path d="M397.06 257.5L397.06 256.5M397.06 257.5L398.01 257.19M397.06 257.5L397.64 258.31M397.06 257.5L396.47 258.31M397.06 257.5L396.1 257.19" stroke="#000" stroke-width="1.05" stroke-linecap="round" fill="none"/>
<path d="M377.24 264.6L377.24 263.6M377.24 264.6L378.19 264.29M377.24 264.6L377.82 265.41M377.24 264.6L376.65 265.41M377.24 264.6L376.28 264.29" stroke="#000" stroke-width="1.05" stroke-linecap="round" fill="none"/>
<path d="M381.14 264.6L381.14 263.6M381.14 264.6L382.09 264.29M381.14 264.6L381.72 265.41M381.14 264.6L380.55 265.41M381.14 264.6L380.18 264.29" stroke="#000" stroke-width="1.05" stroke-linecap="round" fill="none"/>
<path d="M400.69 264.6L400.69 263.6M400.69 264.6L401.64 264.29M400.69 264.6L401.28 265.41M400.69 264.6L400.1 265.41M400.69 264.6L399.74 264.29" stroke="#000" stroke-width="1.05" stroke-linecap="round" fill="none"/>
<rect x="40.55" y="391.2" width="8.9" height="60.7" fill="#000000"/>
<path d="M45 391.5V383M43.4 383.35H46.6" stroke="#000" stroke-width="1.2" fill="none"/>
<rect x="54.12" y="412.4" width="8.9" height="39.5" fill="#4558a6"/>
<path d="M58.57 412.7V407.4M56.97 407.75H60.17" stroke="#000" stroke-width="1.2" fill="none"/>
<rect x="67.69" y="402.1" width="8.9" height="49.8" fill="#7cc142"/>
<path d="M72.14 402.4V394.6M70.54 394.95H73.74" stroke="#000" stroke-width="1.2" fill="none"/>
<rect x="81.26" y="424.4" width="8.9" height="27.5" fill="#db2823"/>
<path d="M85.71 424.7V421.2M84.11 421.55H87.31" stroke="#000" stroke-width="1.2" fill="none"/>
<rect x="36.15" y="362.2" width="59.2" height="89.7" fill="none" stroke="#000" stroke-width="1.2"/>
<path d="M33.45 451.9H36.15M33.45 433.96H36.15M33.45 416.02H36.15M33.45 398.08H36.15M33.45 380.14H36.15M33.45 362.2H36.15M36.15 451.9V454.2M95.35 451.9V454.2" stroke="#000" stroke-width="1.05" fill="none"/>
<text x="32.65" y="454.9" text-anchor="end" class="t">0</text>
<text x="32.65" y="436.96" text-anchor="end" class="t">0.2</text>
<text x="32.65" y="419.02" text-anchor="end" class="t">0.4</text>
<text x="32.65" y="401.08" text-anchor="end" class="t">0.6</text>
<text x="32.65" y="383.14" text-anchor="end" class="t">0.8</text>
<text x="32.65" y="365.2" text-anchor="end" class="t">1</text>
<path d="M45.1 371.1V367.6H86.31V371.1M45.1 379.3V375.8H57.57V379.3M60.77 379.3V375.8H86.31V379.3" stroke="#000" stroke-width="1.3" fill="none"/>
<path d="M63.75 364.7L63.75 363.7M63.75 364.7L64.71 364.39M63.75 364.7L64.34 365.51M63.75 364.7L63.17 365.51M63.75 364.7L62.8 364.39" stroke="#000" stroke-width="1.05" stroke-linecap="round" fill="none"/>
<path d="M67.66 364.7L67.66 363.7M67.66 364.7L68.61 364.39M67.66 364.7L68.24 365.51M67.66 364.7L67.07 365.51M67.66 364.7L66.7 364.39" stroke="#000" stroke-width="1.05" stroke-linecap="round" fill="none"/>
<path d="M51.74 372.4L51.74 371.4M51.74 372.4L52.69 372.09M51.74 372.4L52.32 373.21M51.74 372.4L51.15 373.21M51.74 372.4L50.78 372.09" stroke="#000" stroke-width="1.05" stroke-linecap="round" fill="none"/>
<path d="M73.24 372.4L73.24 371.4M73.24 372.4L74.19 372.09M73.24 372.4L73.83 373.21M73.24 372.4L72.65 373.21M73.24 372.4L72.29 372.09" stroke="#000" stroke-width="1.05" stroke-linecap="round" fill="none"/>
<rect x="122.8" y="389.4" width="8.9" height="62.5" fill="#000000"/>
<path d="M127.25 389.7V380.2M125.65 380.55H128.85" stroke="#000" stroke-width="1.2" fill="none"/>
<rect x="136.37" y="406.3" width="8.9" height="45.6" fill="#4558a6"/>
<path d="M140.82 406.6V398.2M139.22 398.55H142.42" stroke="#000" stroke-width="1.2" fill="none"/>
<rect x="149.94" y="402.1" width="8.9" height="49.8" fill="#7cc142"/>
<path d="M154.39 402.4V392.2M152.79 392.55H155.99" stroke="#000" stroke-width="1.2" fill="none"/>
<rect x="163.51" y="423" width="8.9" height="28.9" fill="#db2823"/>
<path d="M167.96 423.3V417.7M166.36 418.05H169.56" stroke="#000" stroke-width="1.2" fill="none"/>
<rect x="118.4" y="362.2" width="59.2" height="89.7" fill="none" stroke="#000" stroke-width="1.2"/>
<path d="M115.7 451.9H118.4M115.7 436.95H118.4M115.7 422H118.4M115.7 407.05H118.4M115.7 392.1H118.4M115.7 377.15H118.4M115.7 362.2H118.4M118.4 451.9V454.2M177.6 451.9V454.2" stroke="#000" stroke-width="1.05" fill="none"/>
<text x="114.9" y="454.9" text-anchor="end" class="t">0</text>
<text x="114.9" y="439.95" text-anchor="end" class="t">0.2</text>
<text x="114.9" y="425" text-anchor="end" class="t">0.4</text>
<text x="114.9" y="410.05" text-anchor="end" class="t">0.6</text>
<text x="114.9" y="395.1" text-anchor="end" class="t">0.8</text>
<text x="114.9" y="380.15" text-anchor="end" class="t">1</text>
<text x="114.9" y="365.2" text-anchor="end" class="t">1.2</text>
<path d="M127.35 371.1V367.6H168.56V371.1M127.35 377.5V374H139.82V377.5M143.02 377.5V374H168.56V377.5" stroke="#000" stroke-width="1.3" fill="none"/>
<path d="M146 364.7L146 363.7M146 364.7L146.96 364.39M146 364.7L146.59 365.51M146 364.7L145.42 365.51M146 364.7L145.05 364.39" stroke="#000" stroke-width="1.05" stroke-linecap="round" fill="none"/>
<path d="M149.9 364.7L149.9 363.7M149.9 364.7L150.86 364.39M149.9 364.7L150.49 365.51M149.9 364.7L149.32 365.51M149.9 364.7L148.95 364.39" stroke="#000" stroke-width="1.05" stroke-linecap="round" fill="none"/>
<path d="M133.98 370.6L133.98 369.6M133.98 370.6L134.94 370.29M133.98 370.6L134.57 371.41M133.98 370.6L133.4 371.41M133.98 370.6L133.03 370.29" stroke="#000" stroke-width="1.05" stroke-linecap="round" fill="none"/>
<path d="M155.49 370.6L155.49 369.6M155.49 370.6L156.44 370.29M155.49 370.6L156.08 371.41M155.49 370.6L154.9 371.41M155.49 370.6L154.54 370.29" stroke="#000" stroke-width="1.05" stroke-linecap="round" fill="none"/>
<rect x="203.9" y="393.4" width="8.9" height="58.5" fill="#000000"/>
<path d="M208.35 393.7V385.8M206.75 386.15H209.95" stroke="#000" stroke-width="1.2" fill="none"/>
<rect x="217.47" y="409.6" width="8.9" height="42.3" fill="#4558a6"/>
<path d="M221.92 409.9V404.6M220.32 404.95H223.52" stroke="#000" stroke-width="1.2" fill="none"/>
<rect x="231.04" y="405.8" width="8.9" height="46.1" fill="#7cc142"/>
<path d="M235.49 406.1V400.2M233.89 400.55H237.09" stroke="#000" stroke-width="1.2" fill="none"/>
<rect x="244.61" y="423.4" width="8.9" height="28.5" fill="#db2823"/>
<path d="M249.06 423.7V419M247.46 419.35H250.66" stroke="#000" stroke-width="1.2" fill="none"/>
<rect x="199.3" y="362.2" width="59.2" height="89.7" fill="none" stroke="#000" stroke-width="1.2"/>
<path d="M196.6 451.9H199.3M196.6 441.93H199.3M196.6 431.97H199.3M196.6 422H199.3M196.6 412.03H199.3M196.6 402.07H199.3M196.6 392.1H199.3M196.6 382.13H199.3M196.6 372.17H199.3M196.6 362.2H199.3M199.3 451.9V454.2M258.5 451.9V454.2" stroke="#000" stroke-width="1.05" fill="none"/>
<text x="195.8" y="454.9" text-anchor="end" class="t">0</text>
<text x="195.8" y="444.93" text-anchor="end" class="t">0.5</text>
<text x="195.8" y="434.97" text-anchor="end" class="t">1</text>
<text x="195.8" y="425" text-anchor="end" class="t">1.5</text>
<text x="195.8" y="415.03" text-anchor="end" class="t">2</text>
<text x="195.8" y="405.07" text-anchor="end" class="t">2.5</text>
<text x="195.8" y="395.1" text-anchor="end" class="t">3</text>
<text x="195.8" y="385.13" text-anchor="end" class="t">3.5</text>
<text x="195.8" y="375.17" text-anchor="end" class="t">4</text>
<text x="195.8" y="365.2" text-anchor="end" class="t">4.5</text>
<path d="M208.45 371.1V367.6H249.66V371.1M208.45 379.7V376.2H220.92V379.7M224.12 379.7V376.2H249.66V379.7" stroke="#000" stroke-width="1.3" fill="none"/>
<path d="M227.11 364.7L227.11 363.7M227.11 364.7L228.06 364.39M227.11 364.7L227.69 365.51M227.11 364.7L226.52 365.51M227.11 364.7L226.15 364.39" stroke="#000" stroke-width="1.05" stroke-linecap="round" fill="none"/>
<path d="M231 364.7L231 363.7M231 364.7L231.96 364.39M231 364.7L231.59 365.51M231 364.7L230.42 365.51M231 364.7L230.05 364.39" stroke="#000" stroke-width="1.05" stroke-linecap="round" fill="none"/>
<path d="M215.08 372.8L215.08 371.8M215.08 372.8L216.04 372.49M215.08 372.8L215.67 373.61M215.08 372.8L214.5 373.61M215.08 372.8L214.13 372.49" stroke="#000" stroke-width="1.05" stroke-linecap="round" fill="none"/>
<path d="M236.59 372.8L236.59 371.8M236.59 372.8L237.54 372.49M236.59 372.8L237.18 373.61M236.59 372.8L236 373.61M236.59 372.8L235.64 372.49" stroke="#000" stroke-width="1.05" stroke-linecap="round" fill="none"/>
<rect x="285.3" y="389.8" width="8.9" height="62.1" fill="#000000"/>
<path d="M289.75 390.1V382.1M288.15 382.45H291.35" stroke="#000" stroke-width="1.2" fill="none"/>
<rect x="298.87" y="411.8" width="8.9" height="40.1" fill="#4558a6"/>
<path d="M303.32 412.1V407.3M301.72 407.65H304.92" stroke="#000" stroke-width="1.2" fill="none"/>
<rect x="312.44" y="399.9" width="8.9" height="52" fill="#7cc142"/>
<path d="M316.89 400.2V394.9M315.29 395.25H318.49" stroke="#000" stroke-width="1.2" fill="none"/>
<rect x="326.01" y="425.8" width="8.9" height="26.1" fill="#db2823"/>
<path d="M330.46 426.1V420.4M328.86 420.75H332.06" stroke="#000" stroke-width="1.2" fill="none"/>
<rect x="280.9" y="362.2" width="59.2" height="89.7" fill="none" stroke="#000" stroke-width="1.2"/>
<path d="M278.2 451.9H280.9M278.2 436.95H280.9M278.2 422H280.9M278.2 407.05H280.9M278.2 392.1H280.9M278.2 377.15H280.9M278.2 362.2H280.9M280.9 451.9V454.2M340.1 451.9V454.2" stroke="#000" stroke-width="1.05" fill="none"/>
<text x="277.4" y="454.9" text-anchor="end" class="t">0</text>
<text x="277.4" y="439.95" text-anchor="end" class="t">1</text>
<text x="277.4" y="425" text-anchor="end" class="t">2</text>
<text x="277.4" y="410.05" text-anchor="end" class="t">3</text>
<text x="277.4" y="395.1" text-anchor="end" class="t">4</text>
<text x="277.4" y="380.15" text-anchor="end" class="t">5</text>
<text x="277.4" y="365.2" text-anchor="end" class="t">6</text>
<path d="M289.85 372V368.5H331.06V372M289.85 379.1V375.6H302.32V379.1M305.52 379.1V375.6H331.06V379.1" stroke="#000" stroke-width="1.3" fill="none"/>
<path d="M306.56 365.6L306.56 364.6M306.56 365.6L307.51 365.29M306.56 365.6L307.14 366.41M306.56 365.6L305.97 366.41M306.56 365.6L305.6 365.29" stroke="#000" stroke-width="1.05" stroke-linecap="round" fill="none"/>
<path d="M310.46 365.6L310.46 364.6M310.46 365.6L311.41 365.29M310.46 365.6L311.04 366.41M310.46 365.6L309.87 366.41M310.46 365.6L309.5 365.29" stroke="#000" stroke-width="1.05" stroke-linecap="round" fill="none"/>
<path d="M314.36 365.6L314.36 364.6M314.36 365.6L315.31 365.29M314.36 365.6L314.94 366.41M314.36 365.6L313.77 366.41M314.36 365.6L313.4 365.29" stroke="#000" stroke-width="1.05" stroke-linecap="round" fill="none"/>
<path d="M296.49 372.2L296.49 371.2M296.49 372.2L297.44 371.89M296.49 372.2L297.07 373.01M296.49 372.2L295.9 373.01M296.49 372.2L295.53 371.89" stroke="#000" stroke-width="1.05" stroke-linecap="round" fill="none"/>
<path d="M317.99 372.2L317.99 371.2M317.99 372.2L318.94 371.89M317.99 372.2L318.58 373.01M317.99 372.2L317.4 373.01M317.99 372.2L317.04 371.89" stroke="#000" stroke-width="1.05" stroke-linecap="round" fill="none"/>
<rect x="368" y="391.1" width="8.9" height="60.8" fill="#000000"/>
<path d="M372.45 391.4V385.7M370.85 386.05H374.05" stroke="#000" stroke-width="1.2" fill="none"/>
<rect x="381.57" y="416" width="8.9" height="35.9" fill="#4558a6"/>
<path d="M386.02 416.3V413.6M384.42 413.95H387.62" stroke="#000" stroke-width="1.2" fill="none"/>
<rect x="395.14" y="402" width="8.9" height="49.9" fill="#7cc142"/>
<path d="M399.59 402.3V392M397.99 392.35H401.19" stroke="#000" stroke-width="1.2" fill="none"/>
<rect x="408.71" y="426.9" width="8.9" height="25" fill="#db2823"/>
<path d="M413.16 427.2V422.7M411.56 423.05H414.76" stroke="#000" stroke-width="1.2" fill="none"/>
<rect x="363.6" y="362.2" width="59.2" height="89.7" fill="none" stroke="#000" stroke-width="1.2"/>
<path d="M360.9 451.9H363.6M360.9 439.09H363.6M360.9 426.27H363.6M360.9 413.46H363.6M360.9 400.64H363.6M360.9 387.83H363.6M360.9 375.01H363.6M360.9 362.2H363.6M363.6 451.9V454.2M422.8 451.9V454.2" stroke="#000" stroke-width="1.05" fill="none"/>
<text x="360.1" y="454.9" text-anchor="end" class="t">0</text>
<text x="360.1" y="442.09" text-anchor="end" class="t">0.1</text>
<text x="360.1" y="429.27" text-anchor="end" class="t">0.2</text>
<text x="360.1" y="416.46" text-anchor="end" class="t">0.3</text>
<text x="360.1" y="403.64" text-anchor="end" class="t">0.4</text>
<text x="360.1" y="390.83" text-anchor="end" class="t">0.5</text>
<text x="360.1" y="378.01" text-anchor="end" class="t">0.6</text>
<text x="360.1" y="365.2" text-anchor="end" class="t">0.7</text>
<path d="M372.55 372.2V368.7H413.76V372.2M372.55 379.6V376.1H385.02V379.6M388.22 379.6V376.1H413.76V379.6" stroke="#000" stroke-width="1.3" fill="none"/>
<path d="M389.26 365.8L389.26 364.8M389.26 365.8L390.21 365.49M389.26 365.8L389.84 366.61M389.26 365.8L388.67 366.61M389.26 365.8L388.3 365.49" stroke="#000" stroke-width="1.05" stroke-linecap="round" fill="none"/>
<path d="M393.16 365.8L393.16 364.8M393.16 365.8L394.11 365.49M393.16 365.8L393.74 366.61M393.16 365.8L392.57 366.61M393.16 365.8L392.2 365.49" stroke="#000" stroke-width="1.05" stroke-linecap="round" fill="none"/>
<path d="M397.06 365.8L397.06 364.8M397.06 365.8L398.01 365.49M397.06 365.8L397.64 366.61M397.06 365.8L396.47 366.61M397.06 365.8L396.1 365.49" stroke="#000" stroke-width="1.05" stroke-linecap="round" fill="none"/>
<path d="M377.24 372.7L377.24 371.7M377.24 372.7L378.19 372.39M377.24 372.7L377.82 373.51M377.24 372.7L376.65 373.51M377.24 372.7L376.28 372.39" stroke="#000" stroke-width="1.05" stroke-linecap="round" fill="none"/>
<path d="M381.14 372.7L381.14 371.7M381.14 372.7L382.09 372.39M381.14 372.7L381.72 373.51M381.14 372.7L380.55 373.51M381.14 372.7L380.18 372.39" stroke="#000" stroke-width="1.05" stroke-linecap="round" fill="none"/>
<path d="M400.69 372.7L400.69 371.7M400.69 372.7L401.64 372.39M400.69 372.7L401.28 373.51M400.69 372.7L400.1 373.51M400.69 372.7L399.74 372.39" stroke="#000" stroke-width="1.05" stroke-linecap="round" fill="none"/>
<text transform="translate(20.9 65.1) rotate(-90)" text-anchor="middle" class="l">ALN cells<tspan dx="-0.8"> (x</tspan><tspan dx="-0.4"> 10</tspan><tspan dy="-3.7" dx="0.4" class="u">6</tspan><tspan dy="3.7" dx="0.3">)</tspan></text>
<text transform="translate(122.3 65.1) rotate(-90)" text-anchor="middle" class="l">ILN cells<tspan dx="-0.8"> (x</tspan><tspan dx="-0.4"> 10</tspan><tspan dy="-3.7" dx="0.4" class="u">6</tspan><tspan dy="3.7" dx="0.3">)</tspan></text>
<text transform="translate(219.3 65.1) rotate(-90)" text-anchor="middle" class="l">CLN cells<tspan dx="-0.8"> (x</tspan><tspan dx="-0.4"> 10</tspan><tspan dy="-3.7" dx="0.4" class="u">6</tspan><tspan dy="3.7" dx="0.3">)</tspan></text>
<text transform="translate(319.3 65.1) rotate(-90)" text-anchor="middle" class="l">MLN cells<tspan dx="-0.8"> (x</tspan><tspan dx="-0.4"> 10</tspan><tspan dy="-3.7" dx="0.4" class="u">6</tspan><tspan dy="3.7" dx="0.3">)</tspan></text>
<text transform="translate(19.7 174.4) rotate(-90)" text-anchor="middle" class="l">PP cells<tspan dx="-0.8"> (x</tspan><tspan dx="-0.4"> 10</tspan><tspan dy="-3.7" dx="0.4" class="u">6</tspan><tspan dy="3.7" dx="0.3">)</tspan></text>
<text transform="translate(114.6 174.4) rotate(-90)" text-anchor="middle" class="l">SPL cells<tspan dx="-0.8"> (x</tspan><tspan dx="-0.4"> 10</tspan><tspan dy="-3.7" dx="0.4" class="u">6</tspan><tspan dy="3.7" dx="0.3">)</tspan></text>
<text transform="translate(216.7 174.4) rotate(-90)" text-anchor="middle" class="l">THY cells<tspan dx="-0.8"> (x</tspan><tspan dx="-0.4"> 10</tspan><tspan dy="-3.7" dx="0.4" class="u">6</tspan><tspan dy="3.7" dx="0.3">)</tspan></text>
<text transform="translate(320.1 174.4) rotate(-90)" text-anchor="middle" class="l">BM cells<tspan dx="-0.8"> (x</tspan><tspan dx="-0.4"> 10</tspan><tspan dy="-3.7" dx="0.4" class="u">6</tspan><tspan dy="3.7" dx="0.3">)</tspan></text>
<text transform="translate(16.6 349) rotate(-90)" class="lb"><tspan x="0" y="0">CFDA</tspan><tspan x="22.8" y="-4.9" class="u">+</tspan><tspan x="27.5" y="0">B220</tspan><tspan x="48.1" y="-4.9" class="u">+</tspan><tspan x="54.8" y="0">cells</tspan><tspan x="73.6" y="0">(x</tspan><tspan x="82.9" y="0">10</tspan><tspan x="93.2" y="-4.8" class="u">4</tspan><tspan x="98.3" y="0">)</tspan></text>
<text transform="translate(16.6 457) rotate(-90)" class="lb"><tspan x="0" y="0">CFDA</tspan><tspan x="22.8" y="-4.9" class="u">+</tspan><tspan x="27.5" y="0">CD3</tspan><tspan x="44.4" y="0" class="e">ε</tspan><tspan x="48.1" y="-4.9" class="u">+</tspan><tspan x="54.8" y="0">cells</tspan><tspan x="73.6" y="0">(x</tspan><tspan x="82.9" y="0">10</tspan><tspan x="93.2" y="-4.8" class="u">4</tspan><tspan x="98.3" y="0">)</tspan></text>
<text x="64.85" y="468" text-anchor="middle" class="xb">ALN</text>
<text x="147.9" y="468" text-anchor="middle" class="xb">ILN</text>
<text x="229" y="468" text-anchor="middle" class="xb">CLN</text>
<text x="310.8" y="468" text-anchor="middle" class="xb">MLN</text>
<text x="394.2" y="468" text-anchor="middle" class="xb">PP</text>
<text x="3.8" y="11.8" class="P">A</text>
<text x="4.2" y="241.4" class="P">B</text>
<rect x="404.7" y="20.7" width="8.5" height="5.4" fill="#000000"/>
<text x="416.8" y="25.7" class="g">WT</text>
<rect x="404.7" y="29.6" width="8.5" height="5.4" fill="#4558a6"/>
<text x="416.8" y="34.6" class="g">St3gal4<tspan dy="-3" dx="0.4" class="d">Δ/Δ</tspan></text>
<rect x="404.7" y="38.5" width="8.5" height="5.4" fill="#7cc142"/>
<text x="416.8" y="43.5" class="g">St3gal6<tspan dy="-3" dx="0.4" class="d">Δ/Δ</tspan></text>
<rect x="404.7" y="47.4" width="8.5" height="5.4" fill="#db2823"/>
<text x="416.8" y="52.4" class="g">St3gal4<tspan dy="-3" dx="0.4" class="d">Δ/Δ</tspan><tspan dy="3" dx="-1.4"> St3gal6</tspan><tspan dy="-3" dx="0.4" class="d">Δ/Δ</tspan></text>
<rect x="430.9" y="254.3" width="8.5" height="5.4" fill="#000000"/>
<text x="443" y="259.3" class="g">WT</text>
<rect x="430.9" y="263.24" width="8.5" height="5.4" fill="#4558a6"/>
<text x="443" y="268.24" class="g">St3gal4<tspan dy="-3" dx="0.4" class="d">Δ/Δ</tspan></text>
<rect x="430.9" y="272.18" width="8.5" height="5.4" fill="#7cc142"/>
<text x="443" y="277.18" class="g">St3gal6<tspan dy="-3" dx="0.4" class="d">Δ/Δ</tspan></text>
<rect x="430.9" y="281.12" width="8.5" height="5.4" fill="#db2823"/>
<text x="443" y="286.12" class="g">St3gal4<tspan dy="-3" dx="0.4" class="d">Δ/Δ</tspan><tspan dy="3" dx="-1.4"> St3gal6</tspan><tspan dy="-3" dx="0.4" class="d">Δ/Δ</tspan></text>
</g>
</svg>
</body></html>
